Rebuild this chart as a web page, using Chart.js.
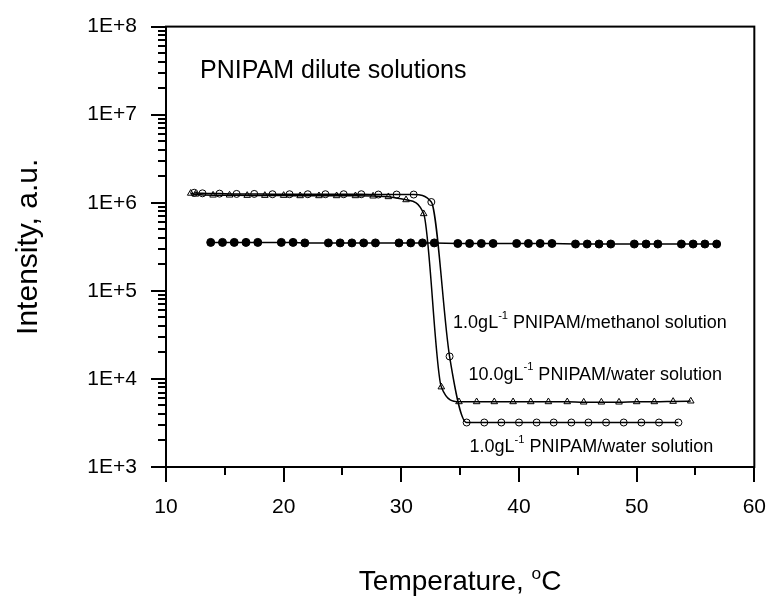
<!DOCTYPE html>
<html>
<head>
<meta charset="utf-8">
<script src="https://cdn.jsdelivr.net/npm/chart.js@4"></script>
<style>
  html, body { margin: 0; padding: 0; background: #fff; }
</style>
</head>
<body>
<canvas id="chart" width="779" height="605"></canvas>
<script>
// temperature (C) and intensity (a.u.)
const methanolT = [13.8, 14.8, 15.8, 16.8, 17.8, 19.8, 20.8, 21.8, 23.8, 24.8, 25.8, 26.8, 27.8,
  29.8, 30.8, 31.8, 32.8, 34.8, 35.8, 36.8, 37.8, 39.8, 40.8, 41.8, 42.8, 44.8, 45.8, 46.8, 47.8,
  49.8, 50.8, 51.8, 53.8, 54.8, 55.8, 56.8];
const methanolI = [3.55e5, 3.55e5, 3.55e5, 3.55e5, 3.55e5, 3.55e5, 3.55e5, 3.5e5, 3.5e5, 3.5e5, 3.5e5, 3.5e5, 3.5e5,
  3.5e5, 3.5e5, 3.5e5, 3.5e5, 3.45e5, 3.45e5, 3.45e5, 3.45e5, 3.45e5, 3.45e5, 3.45e5, 3.45e5, 3.4e5, 3.4e5, 3.4e5, 3.4e5,
  3.4e5, 3.4e5, 3.4e5, 3.4e5, 3.4e5, 3.4e5, 3.4e5];

const water10T = [12.1, 12.5, 14.0, 15.4, 16.9, 18.4, 20.0, 21.4, 23.0, 24.5, 26.1, 27.6, 28.9, 30.4, 31.9,
  33.4, 34.9, 36.4, 37.9, 39.5, 41.0, 42.5, 44.1, 45.5, 47.0, 48.5, 50.0, 51.5, 53.1, 54.6];
const water10I = [1.28e6, 1.25e6, 1.22e6, 1.22e6, 1.21e6, 1.21e6, 1.21e6, 1.2e6, 1.2e6, 1.2e6, 1.2e6, 1.19e6, 1.17e6, 1.08e6, 7.5e5,
  8.1e3, 5.5e3, 5.5e3, 5.5e3, 5.5e3, 5.5e3, 5.5e3, 5.5e3, 5.45e3, 5.45e3, 5.45e3, 5.5e3, 5.5e3, 5.55e3, 5.6e3];

const water1T = [12.4, 13.1, 14.55, 16.0, 17.5, 19.05, 20.5, 22.05, 23.55, 25.1, 26.6, 28.05, 29.6, 31.05, 32.55,
  34.1, 35.55, 37.05, 38.5, 40.0, 41.5, 42.95, 44.45, 45.9, 47.4, 48.9, 50.4, 51.9, 53.55];
const water1I = [1.3e6, 1.28e6, 1.27e6, 1.26e6, 1.26e6, 1.25e6, 1.25e6, 1.25e6, 1.25e6, 1.25e6, 1.25e6, 1.24e6, 1.24e6, 1.24e6, 1.02e6,
  1.8e4, 3.2e3, 3.2e3, 3.2e3, 3.2e3, 3.2e3, 3.2e3, 3.2e3, 3.2e3, 3.2e3, 3.2e3, 3.2e3, 3.2e3, 3.2e3];

const xTicks = [10, 20, 30, 40, 50, 60];
const yTicks = [1e3, 1e4, 1e5, 1e6, 1e7, 1e8];

const FONT = '"Liberation Sans", Arial, Helvetica, sans-serif';

const pts = (xs, ys) => xs.map((x, i) => ({ x, y: ys[i] }));

// text drawn in data coordinates; parts with sup are raised
const notes = [
  { x: 12.9, y: 3.1e7, size: 25, parts: [{ t: 'PNIPAM dilute solutions' }] },
  { x: 34.4, y: 4.3e4, size: 18, parts: [{ t: '1.0gL' }, { t: '-1', sup: true }, { t: ' PNIPAM/methanol solution' }] },
  { x: 35.7, y: 1.12e4, size: 18, parts: [{ t: '10.0gL' }, { t: '-1', sup: true }, { t: ' PNIPAM/water solution' }] },
  { x: 35.8, y: 1.7e3, size: 18, parts: [{ t: '1.0gL' }, { t: '-1', sup: true }, { t: ' PNIPAM/water solution' }] }
];

function drawRich(ctx, parts, x, y, size, align) {
  let w = 0;
  parts.forEach(p => {
    ctx.font = `${p.sup ? size * 0.62 : size}px ${FONT}`;
    p.w = ctx.measureText(p.t).width;
    w += p.w;
  });
  let cx = align === 'center' ? x - w / 2 : x;
  parts.forEach(p => {
    ctx.font = `${p.sup ? size * 0.62 : size}px ${FONT}`;
    ctx.fillText(p.t, cx, p.sup ? y - size * 0.4 : y);
    cx += p.w;
  });
}

const decor = {
  id: 'decor',
  afterDraw(chart) {
    const { ctx, chartArea: a, scales } = chart;
    const xs = scales.x, ys = scales.y;
    ctx.save();
    ctx.strokeStyle = '#000';
    ctx.lineWidth = 2;
    ctx.strokeRect(a.left, a.top, a.right - a.left, a.bottom - a.top);

    // minor ticks
    ctx.beginPath();
    for (let e = 3; e < 8; e++) {
      for (let m = 2; m <= 9; m++) {
        const py = Math.round(ys.getPixelForValue(m * Math.pow(10, e)));
        ctx.moveTo(a.left - 8, py);
        ctx.lineTo(a.left, py);
      }
    }
    for (let v = 15; v < 60; v += 10) {
      const px = Math.round(xs.getPixelForValue(v));
      ctx.moveTo(px, a.bottom);
      ctx.lineTo(px, a.bottom + 8);
    }
    ctx.stroke();

    ctx.fillStyle = '#000';
    ctx.textBaseline = 'middle';
    ctx.textAlign = 'left';
    notes.forEach(n => {
      drawRich(ctx, n.parts, xs.getPixelForValue(n.x), ys.getPixelForValue(n.y), n.size, 'left');
    });

    // axis titles
    ctx.textBaseline = 'alphabetic';
    drawRich(ctx, [{ t: 'Temperature, ' }, { t: 'o', sup: true }, { t: 'C' }],
      (a.left + a.right) / 2, 590, 28, 'center');
    ctx.translate(37, (a.top + a.bottom) / 2);
    ctx.rotate(-Math.PI / 2);
    drawRich(ctx, [{ t: 'Intensity, a.u.' }], 0, 0, 30, 'center');
    ctx.restore();
  }
};

const lineBase = {
  borderColor: '#000',
  borderWidth: 1.5,
  pointBorderColor: '#000',
  pointBorderWidth: 1,
  showLine: true
};

new Chart(document.getElementById('chart'), {
  type: 'line',
  data: {
    datasets: [
      Object.assign({}, lineBase, {
        label: '1.0gL-1 PNIPAM/methanol solution',
        data: pts(methanolT, methanolI),
        pointStyle: 'circle', pointRadius: 4, pointBackgroundColor: '#000', tension: 0
      }),
      Object.assign({}, lineBase, {
        label: '10.0gL-1 PNIPAM/water solution',
        data: pts(water10T, water10I),
        pointStyle: 'triangle', pointRadius: 3.8, pointBackgroundColor: 'rgba(0,0,0,0)',
        cubicInterpolationMode: 'monotone'
      }),
      Object.assign({}, lineBase, {
        label: '1.0gL-1 PNIPAM/water solution',
        data: pts(water1T, water1I),
        pointStyle: 'circle', pointRadius: 3.5, pointBackgroundColor: 'rgba(0,0,0,0)',
        cubicInterpolationMode: 'monotone'
      })
    ]
  },
  options: {
    responsive: false,
    animation: false,
    layout: { padding: { top: 22, right: 20, left: 0, bottom: 0 } },
    plugins: { legend: { display: false }, tooltip: { enabled: false } },
    scales: {
      x: {
        type: 'linear', min: 10, max: 60,
        afterBuildTicks: s => { s.ticks = xTicks.map(v => ({ value: v })); },
        afterFit: s => { s.height = 138; },
        grid: { drawOnChartArea: false, tickLength: 15, color: '#000', lineWidth: 2 },
        border: { display: true, color: '#000', width: 2 },
        ticks: { color: '#000', font: { family: FONT, size: 21 }, padding: 13, maxRotation: 0 }
      },
      y: {
        type: 'logarithmic', min: 1e3, max: 1e8,
        afterBuildTicks: s => { s.ticks = yTicks.map(v => ({ value: v })); },
        afterFit: s => { s.width = 166; },
        grid: { drawOnChartArea: false, tickLength: 15, color: '#000', lineWidth: 2 },
        border: { display: true, color: '#000', width: 2 },
        ticks: {
          color: '#000', font: { family: FONT, size: 21 }, padding: 14, autoSkip: false,
          callback: v => '1E+' + Math.round(Math.log10(v))
        }
      }
    }
  },
  plugins: [decor]
});
</script>
</body>
</html>
